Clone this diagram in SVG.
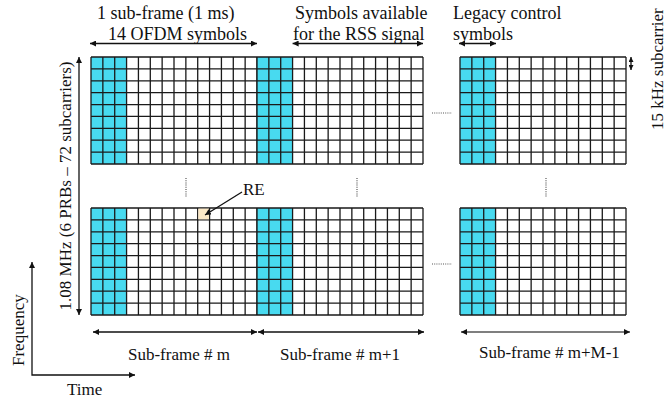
<svg xmlns="http://www.w3.org/2000/svg" xmlns:xlink="http://www.w3.org/1999/xlink" width="670" height="399" viewBox="0 0 670 399">
<style>
text{font-family:"Liberation Serif","Times New Roman",serif;font-size:17px;fill:#111}
.big{font-size:18px}
.ln{stroke:#111;stroke-width:1.3;fill:none}
.grid{stroke:#1a1a1a;stroke-width:1.3;fill:none}
.dots{stroke:#555;stroke-width:1.2;stroke-dasharray:1 1.2;fill:none}
</style>
<defs>
<marker id="ah" viewBox="0 0 8 8" refX="8" refY="4" markerWidth="6" markerHeight="6" markerUnits="userSpaceOnUse" orient="auto-start-reverse"><path d="M0,0 L8,4 L0,8 z" fill="#111"/></marker>
<marker id="ahs" viewBox="0 0 8 8" refX="8" refY="4" markerWidth="5" markerHeight="5" markerUnits="userSpaceOnUse" orient="auto-start-reverse"><path d="M0,0 L8,4 L0,8 z" fill="#111"/></marker>
<g id="sf">
<rect x="0" y="0" width="166" height="107" fill="#fff"/>
<rect x="0" y="0" width="35.57" height="107" fill="#48DAF0"/>
<path class="grid" d="M0 0V107M11.86 0V107M23.71 0V107M35.57 0V107M47.43 0V107M59.29 0V107M71.14 0V107M83 0V107M94.86 0V107M106.71 0V107M118.57 0V107M130.43 0V107M142.29 0V107M154.14 0V107M166 0V107M0 0H166M0 11.89H166M0 23.78H166M0 35.67H166M0 47.56H166M0 59.44H166M0 71.33H166M0 83.22H166M0 95.11H166M0 107H166"/>
</g>
</defs>
<rect width="670" height="399" fill="#fff"/>

<g id="sf-m-top"><use xlink:href="#sf" href="#sf" x="91" y="57"/></g>
<g id="sf-m1-top"><use xlink:href="#sf" href="#sf" x="257" y="57"/></g>
<g id="sf-mM-top"><use xlink:href="#sf" href="#sf" x="460" y="57"/></g>
<g id="sf-m-bot"><use xlink:href="#sf" href="#sf" x="91" y="208"/></g>
<g id="sf-m1-bot"><use xlink:href="#sf" href="#sf" x="257" y="208"/></g>
<g id="sf-mM-bot"><use xlink:href="#sf" href="#sf" x="460" y="208"/></g>
<g id="re-cell"><rect x="198.3" y="208.6" width="10.7" height="10.7" fill="#FCE9C6"/></g>

<g id="ellipsis">
<path class="dots" d="M186 178V197M357 178V197M546 178V197M432 113H452M432 264H452"/>
</g>

<g id="labels">
<text class="big" x="97" y="19">1 sub-frame (1 ms)</text>
<text class="big" x="108" y="40">14 OFDM symbols</text>
<text class="big" x="295" y="19">Symbols available</text>
<text class="big" x="293" y="40">for the RSS signal</text>
<text class="big" x="453" y="19">Legacy control</text>
<text class="big" x="453" y="40">symbols</text>
<text x="243" y="195">RE</text>
<text x="128" y="360">Sub-frame # m</text>
<text x="280" y="360">Sub-frame # m+1</text>
<text x="479" y="358">Sub-frame # m+M-1</text>
<text x="67" y="395">Time</text>
<text transform="translate(71,186) rotate(-90)" text-anchor="middle">1.08 MHz (6 PRBs – 72 subcarriers)</text>
<text transform="translate(24,366) rotate(-90)">Frequency</text>
<text transform="translate(663,130) rotate(-90)">15 kHz subcarrier</text>
</g>

<g id="connectors">
<line class="ln" x1="90" y1="43.5" x2="257" y2="43.5" marker-start="url(#ah)" marker-end="url(#ah)"/>
<line class="ln" x1="292.6" y1="43.5" x2="423" y2="43.5" marker-start="url(#ah)" marker-end="url(#ah)"/>
<line class="ln" x1="459" y1="43.5" x2="496" y2="43.5" marker-start="url(#ah)" marker-end="url(#ah)"/>
<line class="ln" x1="631" y1="57" x2="631" y2="70" marker-start="url(#ahs)" marker-end="url(#ahs)"/>
<line class="ln" x1="79" y1="57" x2="79" y2="315" marker-start="url(#ah)" marker-end="url(#ah)"/>
<line class="ln" x1="93" y1="332" x2="257" y2="332" marker-start="url(#ah)" marker-end="url(#ah)"/>
<line class="ln" x1="258" y1="332" x2="424" y2="332" marker-start="url(#ah)" marker-end="url(#ah)"/>
<line class="ln" x1="461" y1="332" x2="630" y2="332" style="stroke:#555" marker-start="url(#ah)" marker-end="url(#ah)"/>
<line class="ln" x1="242" y1="192" x2="205" y2="215" marker-end="url(#ah)"/>
<polyline class="ln" points="32,262 32,375 135,375" marker-start="url(#ah)" marker-end="url(#ah)"/>
</g>
</svg>
